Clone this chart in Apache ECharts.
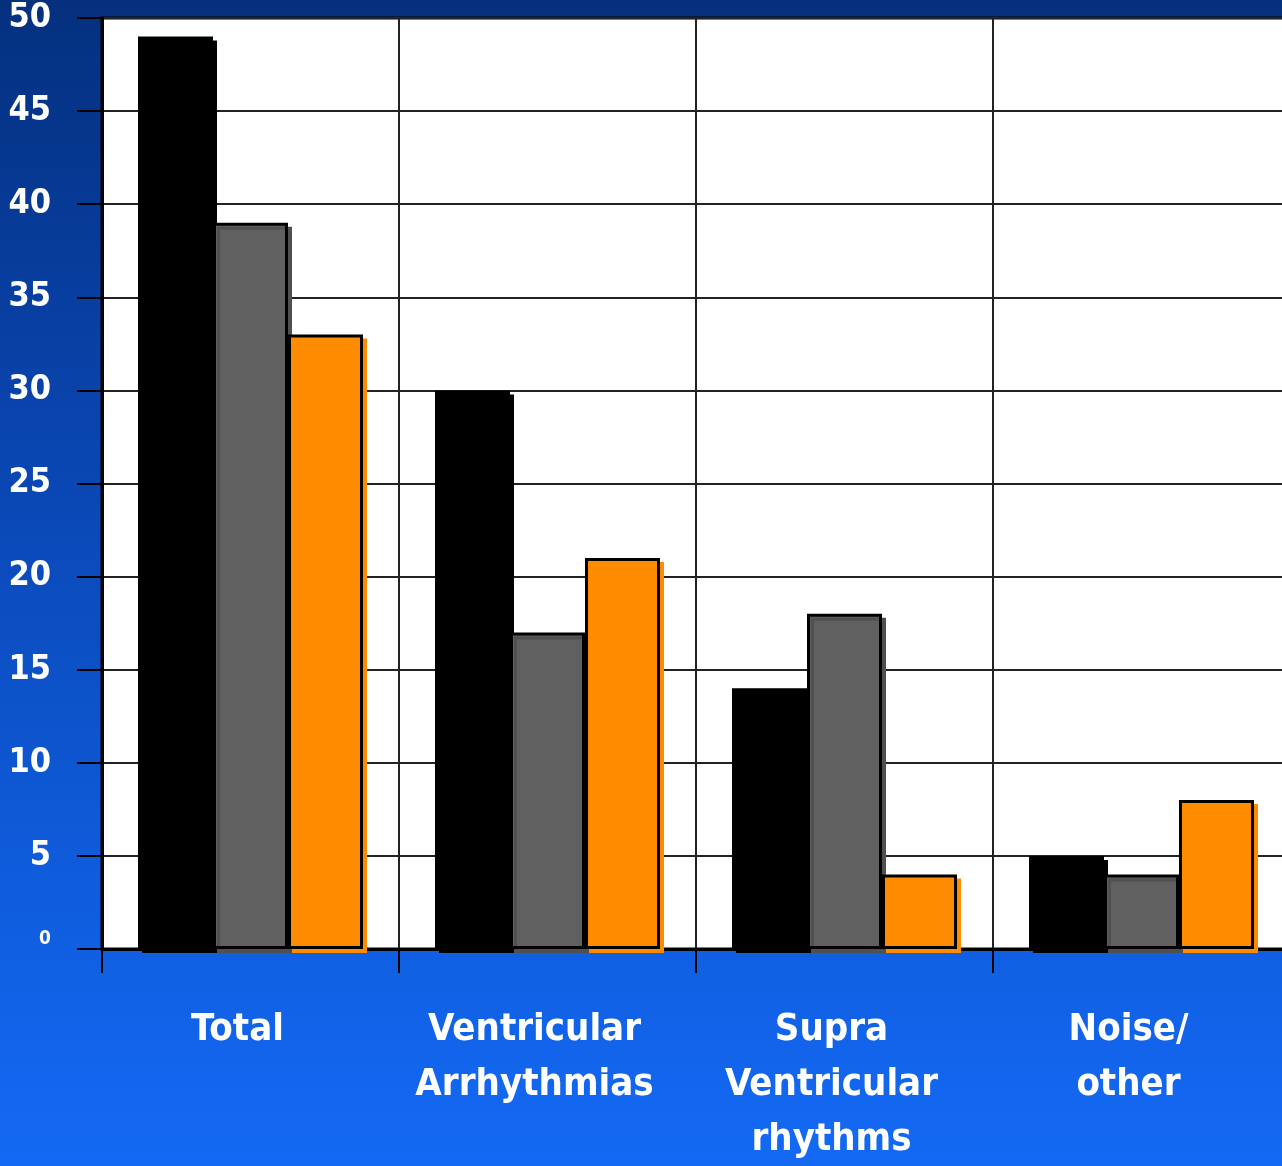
<!DOCTYPE html>
<html>
<head>
<meta charset="utf-8">
<script src="https://cdn.jsdelivr.net/npm/echarts@6/dist/echarts.min.js"></script>
<style>
  html, body { margin: 0; padding: 0; background: #0a3a9a; }
  #chart { width: 1282px; height: 1166px; }
</style>
</head>
<body>
<div id="chart"></div>
<script>
const categories = ['Total', 'Ventricular\nArrhythmias', 'Supra\nVentricular\nrhythms', 'Noise/\nother'];
const seriesNames = ['Series 1', 'Series 2', 'Series 3'];
const series1 = [49, 30, 14, 5];
const series2 = [39, 17, 18, 4];
const series3 = [33, 21, 4, 8];
const yTicks = [0, 5, 10, 15, 20, 25, 30, 35, 40, 45, 50];

const FONT = '"Liberation Sans Narrow", "DejaVu Sans Condensed", Arial, sans-serif';
const colors = ['#000000', '#606060', '#ff8c00'];
const shadowColors = ['#000000', '#505050', '#ff8c00'];
const values = [series1, series2, series3];

const chart = echarts.init(document.getElementById('chart'), null, { renderer: 'canvas' });
chart.setOption({
  animation: false,
  backgroundColor: {
    type: 'linear', x: 0, y: 0, x2: 0, y2: 1,
    colorStops: [
      { offset: 0, color: '#04307e' },
      { offset: 0.4, color: '#0a46b2' },
      { offset: 0.75, color: '#0f5cdc' },
      { offset: 1, color: '#1469f4' }
    ]
  },
  grid: {
    left: 102, top: 18, width: 1188, bottom: 217,
    containLabel: false, outerBoundsMode: 'none',
    show: true, backgroundColor: '#ffffff', borderColor: '#000', borderWidth: 3
  },
  xAxis: {
    type: 'category',
    data: categories,
    axisLine: { show: true, lineStyle: { color: '#000', width: 3 } },
    axisTick: { show: true, length: 24, lineStyle: { color: '#000', width: 2 } },
    splitLine: { show: true, lineStyle: { color: '#222', width: 2 } },
    axisLabel: {
      color: '#fff', fontFamily: FONT, fontWeight: 'bold', fontSize: 38,
      lineHeight: 55, margin: 54, padding: [0, 26, 0, 0], interval: 0
    }
  },
  yAxis: {
    type: 'value', min: yTicks[0], max: yTicks[yTicks.length - 1], interval: 5,
    axisLine: { show: true, lineStyle: { color: '#000', width: 3 } },
    axisTick: { show: true, length: 25, lineStyle: { color: '#000', width: 2 } },
    splitLine: { show: true, lineStyle: { color: '#222', width: 2 } },
    axisLabel: {
      margin: 51,
      formatter: v => v === 0 ? '{s|0}' : '{b|' + v + '}',
      rich: {
        b: { color: '#fff', fontFamily: FONT, fontWeight: 'bold', fontSize: 34 },
        s: { color: '#fff', fontFamily: FONT, fontWeight: 'bold', fontSize: 19, padding: [0, 0, 20, 0] }
      }
    }
  },
  series: values.map((d, i) => ({
    name: seriesNames[i],
    type: 'bar',
    data: d,
    barWidth: 75,
    barGap: '0%',
    itemStyle: {
      color: colors[i],
      borderColor: '#000',
      borderWidth: 3,
      shadowColor: shadowColors[i],
      shadowOffsetX: 4,
      shadowOffsetY: 4,
      shadowBlur: 0
    }
  }))
});
</script>
</body>
</html>
